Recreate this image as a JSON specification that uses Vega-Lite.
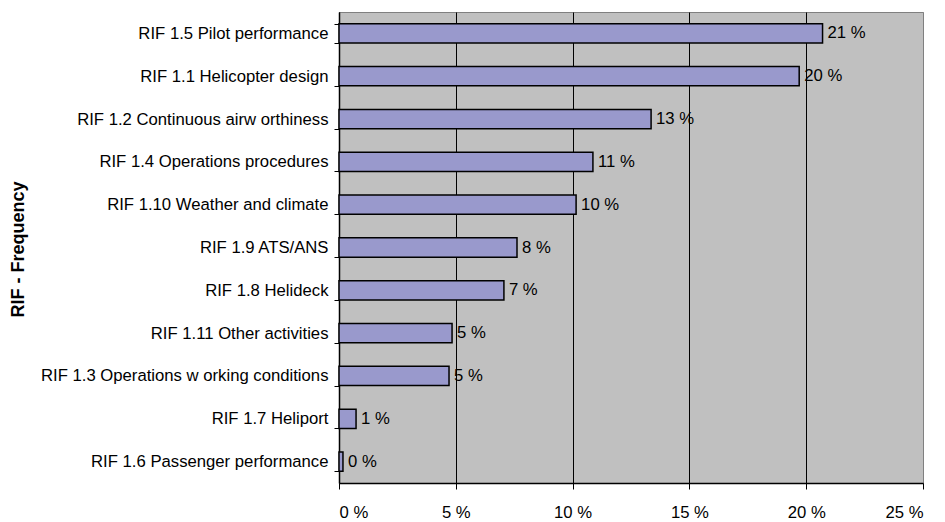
{
  "$schema": "https://vega.github.io/schema/vega-lite/v6.json",
  "width": 584,
  "height": 471,
  "autosize": "none",
  "padding": {"left": 339, "top": 12, "right": 22, "bottom": 39},
  "background": "white",
  "config": {
    "font": "Liberation Sans",
    "view": {"fill": "#C0C0C0", "stroke": "#808080", "strokeWidth": 1}
  },
  "data": {
    "values": [
      {"rif": "RIF 1.5 Pilot performance", "value": 20.7},
      {"rif": "RIF 1.1 Helicopter design", "value": 19.7},
      {"rif": "RIF 1.2 Continuous airw orthiness", "value": 13.36},
      {"rif": "RIF 1.4 Operations procedures", "value": 10.87},
      {"rif": "RIF 1.10 Weather and climate", "value": 10.15},
      {"rif": "RIF 1.9 ATS/ANS", "value": 7.62},
      {"rif": "RIF 1.8 Helideck", "value": 7.06},
      {"rif": "RIF 1.11 Other activities", "value": 4.84},
      {"rif": "RIF 1.3 Operations w orking conditions", "value": 4.71},
      {"rif": "RIF 1.7 Heliport", "value": 0.73},
      {"rif": "RIF 1.6 Passenger performance", "value": 0.17}
    ]
  },
  "transform": [
    {"calculate": "format(datum.value, '.0f') + ' %'", "as": "label"}
  ],
  "encoding": {
    "y": {
      "field": "rif",
      "type": "nominal",
      "sort": null,
      "scale": {"paddingInner": 0.55, "paddingOuter": 0.275},
      "axis": {
        "title": "RIF - Frequency",
        "titleFont": "Liberation Sans",
        "titleFontSize": 18,
        "titleFontWeight": "bold",
        "titleColor": "black",
        "titleX": -312,
        "titleY": 237,
        "titleBaseline": "bottom",
        "labelFont": "Liberation Sans",
        "labelFontSize": 16.7,
        "labelColor": "black",
        "labelPadding": 6,
        "labelLimit": 400,
        "tickBand": "extent",
        "tickSize": 5,
        "tickColor": "black",
        "domainColor": "black",
        "domainWidth": 1.5,
        "grid": false
      }
    },
    "x": {
      "field": "value",
      "type": "quantitative",
      "scale": {"domain": [0, 25], "nice": false},
      "axis": {
        "title": null,
        "values": [0, 5, 10, 15, 20, 25],
        "labelExpr": "datum.value + ' %'",
        "labelFont": "Liberation Sans",
        "labelFontSize": 16.7,
        "labelColor": "black",
        "labelPadding": 15,
        "tickSize": 6,
        "tickColor": "black",
        "domainColor": "black",
        "domainWidth": 1.5,
        "grid": true,
        "gridColor": {"condition": {"test": "datum.value === 25", "value": "#808080"}, "value": "black"},
        "gridOpacity": 1,
        "gridWidth": 1
      }
    }
  },
  "layer": [
    {
      "mark": {"type": "bar", "fill": "#9999CC", "stroke": "black", "strokeWidth": 1.5}
    },
    {
      "mark": {"type": "text", "align": "left", "baseline": "middle", "dx": 5, "fontSize": 16.7, "font": "Liberation Sans", "color": "black"},
      "encoding": {"text": {"field": "label"}}
    }
  ]
}
